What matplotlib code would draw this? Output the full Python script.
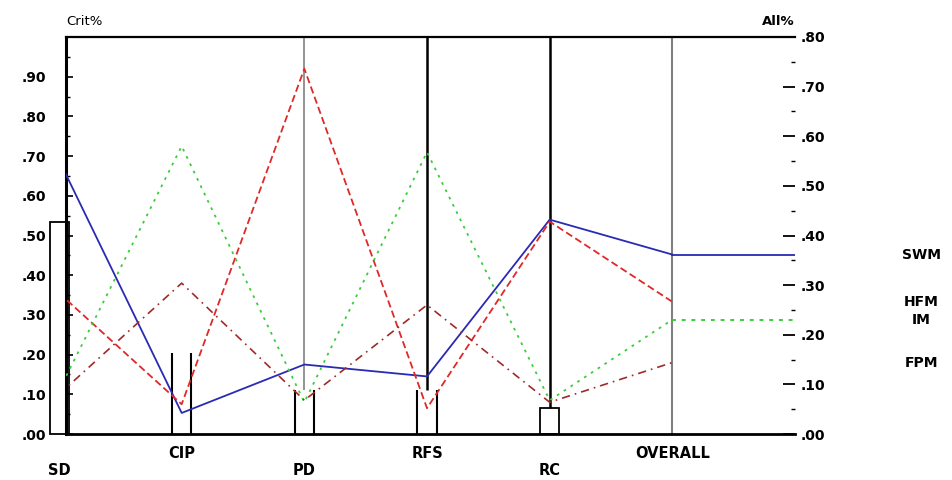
import matplotlib.pyplot as plt
import matplotlib.transforms as mtransforms
import numpy as np

# categories along the x axis
categories = ['SD', 'CIP', 'PD', 'RFS', 'RC', 'OVERALL']

# Crit% values
swm = [0.69, 0.053, 0.175, 0.145, 0.54, 0.452]
hfm = [0.355, 0.075, 0.92, 0.065, 0.535, 0.333]
im = [0.11, 0.725, 0.08, 0.71, 0.085, 0.288]
fpm = [0.10, 0.38, 0.085, 0.325, 0.08, 0.18]

# outlined bars for the first five categories
bar_vals = [0.535, 0.205, 0.11, 0.11, 0.066]

left_ticks = np.arange(0, 0.91, 0.1)
right_ticks = np.arange(0, 0.81, 0.1)

fig = plt.figure(figsize=(9.52, 4.8), dpi=100)
ax = fig.add_axes([66 / 952, 46 / 480, 729 / 952, 397 / 480])
x = np.arange(len(categories))
bw = 0.155

# SD and RC bars are closed boxes, the middle ones only show their sides
closed = [0, 4]
ax.bar(x[closed], [bar_vals[i] for i in closed], width=bw, fill=False,
       edgecolor='black', linewidth=1.3, clip_on=False, zorder=3)
for i in [1, 2, 3]:
    ax.vlines([x[i] - bw / 2, x[i] + bw / 2], 0, bar_vals[i],
              color='black', linewidth=1.5, zorder=3)

# full height divider lines from the bar tops
div_colors = ['#808080', 'black', 'black']
div_widths = [1.2, 1.8, 1.8]
for i, c, w in zip([2, 3, 4], div_colors, div_widths):
    ax.vlines(x[i], bar_vals[i], 1.0, color=c, linewidth=w, zorder=2)
ax.vlines(x[5], 0, 1.0, color='#808080', linewidth=1.5, zorder=2)

# the four series
ax.plot(x, swm, color='#2a2ab4', linewidth=1.3, zorder=4)
ax.plot(x, hfm, color='#e02828', linewidth=1.3, linestyle=(0, (4, 2)), zorder=4)
ax.plot(x, im, color='#3ccc3c', linewidth=1.3, linestyle=(0, (1.5, 3)), zorder=4)
ax.plot(x, fpm, color='#a02a2a', linewidth=1.2, linestyle=(0, (5, 3, 1, 3)), zorder=4)

# SWM and IM continue flat to the right axis
ax.plot([x[-1], 6], [swm[-1], swm[-1]], color='#2a2ab4', linewidth=1.3)
ax.plot([x[-1], 6], [im[-1], im[-1]], color='#3ccc3c', linewidth=1.4,
        linestyle=(0, (2, 3)))

ax.set_xlim(0.057, 6.0)
ax.set_ylim(0, 1.0)
ax.set_xticks([])
ax.set_yticks(left_ticks)
ax.set_yticklabels(['.%02d' % round(v * 100) for v in left_ticks],
                   fontweight='bold', fontsize=10)
ax.set_yticks(np.arange(0.05, 1.0, 0.1), minor=True)
ax.tick_params(axis='y', which='major', direction='in', length=5, width=1.2, pad=14)
ax.tick_params(axis='y', which='minor', direction='in', length=3, width=1)

for side, lw in [('left', 2.2), ('bottom', 2.0), ('top', 1.6)]:
    ax.spines[side].set_linewidth(lw)
ax.spines['right'].set_visible(False)

# right axis
ax2 = ax.twinx()
ax2.set_ylim(0, 0.8)
ax2.set_yticks(right_ticks)
ax2.set_yticklabels(['.%02d' % round(v * 100) for v in right_ticks],
                    fontweight='bold', fontsize=10)
ax2.set_yticks(np.arange(0.05, 0.8, 0.1), minor=True)
ax2.tick_params(axis='y', which='major', direction='in', length=9, width=1.3, pad=4)
ax2.tick_params(axis='y', which='minor', direction='in', length=3, width=1)
for s in ax2.spines.values():
    s.set_visible(False)

# category labels in two staggered rows
xt = mtransforms.blended_transform_factory(ax.transData, ax.transAxes)
for i, name in enumerate(categories):
    yy = -0.048 if i % 2 else -0.093
    ax.text(x[i], yy, name, transform=xt, ha='center', va='center',
            fontweight='bold', fontsize=10.5, clip_on=False)

# series names at their last values, right of the chart
yt = mtransforms.blended_transform_factory(ax.transAxes, ax.transData)
for name, vals in [('SWM', swm), ('HFM', hfm), ('IM', im), ('FPM', fpm)]:
    ax.text(1.173, vals[-1], name, transform=yt, ha='center', va='center',
            fontweight='bold', fontsize=10)

ax.text(0.0, 1.038, 'Crit%', transform=ax.transAxes, ha='left', va='center',
        fontsize=9.5)
ax.text(1.0, 1.038, 'All%', transform=ax.transAxes, ha='right', va='center',
        fontsize=9.5, fontweight='bold')

fig.savefig('out.png', dpi=100)
